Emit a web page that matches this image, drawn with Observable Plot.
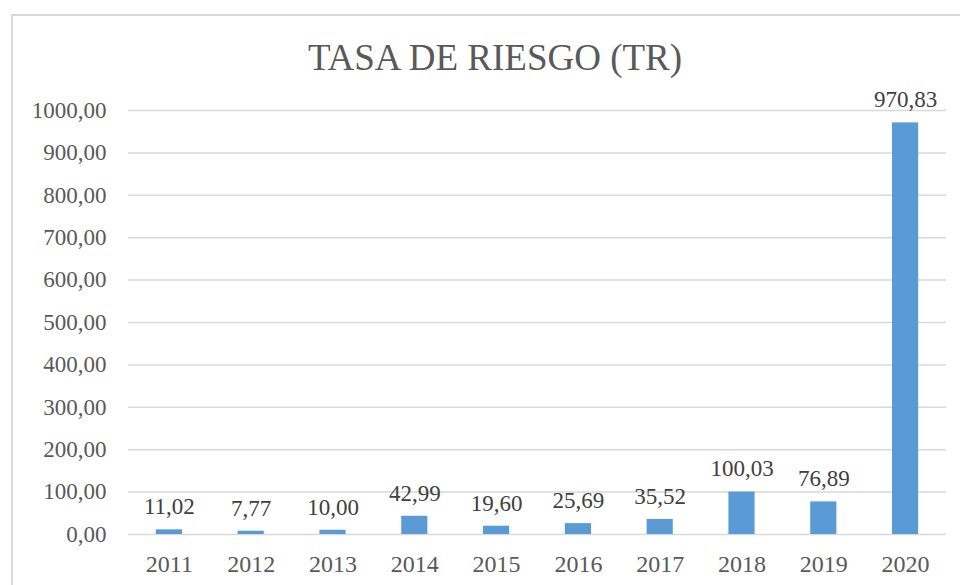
<!DOCTYPE html>
<html>
<head>
<meta charset="utf-8">
<script src="https://cdn.jsdelivr.net/npm/d3@7"></script>
<script src="https://cdn.jsdelivr.net/npm/@observablehq/plot@0.6"></script>
<style>
  html, body { margin: 0; padding: 0; width: 960px; height: 585px; overflow: hidden; background: #fff; }
  #frame { position: absolute; left: 11px; top: 14px; width: 1000px; height: 640px; border: 2px solid #d9d9d9; box-sizing: border-box; }
  #title { position: absolute; left: 0; width: 990px; top: 36px; text-align: center; font-family: "Liberation Serif", "Times New Roman", serif; font-size: 37px; color: #595959; line-height: 44px; }
  #chart { position: absolute; left: 0; top: 0; }
</style>
</head>
<body>
<div id="frame"></div>
<div id="title">TASA DE RIESGO (TR)</div>
<div id="chart"></div>
<script>
const years = ["2011", "2012", "2013", "2014", "2015", "2016", "2017", "2018", "2019", "2020"];
const values = [11.02, 7.77, 10.00, 42.99, 19.60, 25.69, 35.52, 100.03, 76.89, 970.83];
const yTicks = [0, 100, 200, 300, 400, 500, 600, 700, 800, 900, 1000];

const data = years.map((year, i) => ({year, value: values[i]}));
const fmt = d3.formatLocale({decimal: ",", thousands: "", grouping: [3], currency: ["", ""]}).format(".2f");

const chart = Plot.plot({
  width: 960,
  height: 585,
  marginLeft: 128,
  marginRight: 14,
  marginTop: 110,
  marginBottom: 51,
  style: {fontFamily: "'Liberation Serif', 'Times New Roman', serif", fontSize: "23px", color: "#595959", background: "transparent"},
  x: {domain: years, paddingInner: 0.68, paddingOuter: 0.34, round: false, label: null},
  y: {domain: [0, 1000], label: null},
  marks: [
    Plot.ruleY(yTicks, {stroke: "#d9d9d9", strokeWidth: 1.5}),
    Plot.barY(data, {x: "year", y: "value", fill: "#5b9bd5"}),
    Plot.text(data, {x: "year", y: "value", text: d => fmt(d.value), dy: -23, fill: "#404040", fontSize: 23, lineAnchor: "middle"}),
    Plot.axisY(yTicks, {tickSize: 0, tickPadding: 22, tickFormat: fmt, fill: "#595959", fontSize: 23}),
    Plot.axisX({tickSize: 0, tickPadding: 20, fill: "#595959", fontSize: 24})
  ]
});
document.getElementById("chart").appendChild(chart);
</script>
</body>
</html>
